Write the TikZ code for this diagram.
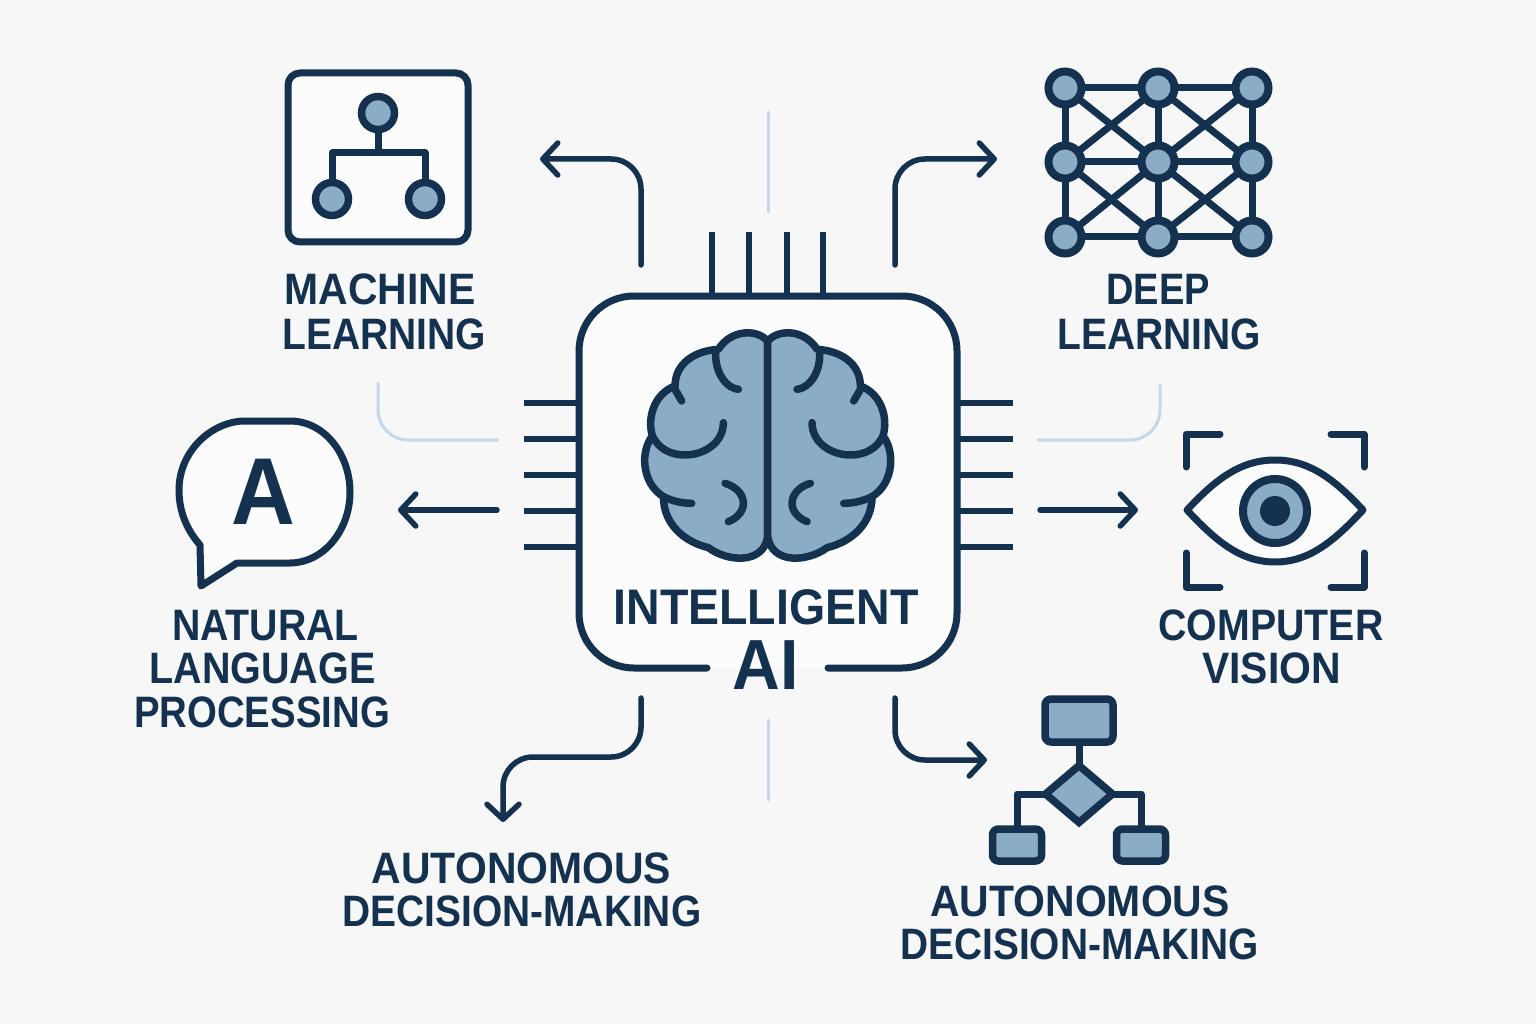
\documentclass[tikz,border=0pt]{standalone}
\usepackage{fontspec}
\usepackage{graphicx}
\setmainfont{Liberation Sans}[FakeStretch=0.93]
\usetikzlibrary{arrows.meta,shapes.geometric}
\definecolor{ink}{HTML}{14324F}
\definecolor{steel}{HTML}{8AACC7}
\definecolor{paper}{HTML}{F7F7F7}
\definecolor{card}{HTML}{FCFCFC}
\definecolor{pale}{HTML}{C3D8E8}
\newcommand{\squeezed}[2]{\scalebox{#1}[1]{#2}}
\tikzset{
  line/.style={draw=ink,line width=7pt,line cap=round,line join=round},
  pin/.style={line,line width=6pt,line cap=butt},
  flow/.style={draw=ink,line width=5.5pt,line cap=round,line join=round,rounded corners=30pt,
    -{Straight Barb[length=15pt,width=32pt,round]}},
  ghost/.style={draw=pale,line width=3pt,line cap=round,rounded corners=30pt},
  lab/.style={anchor=base,inner sep=0pt,text=ink,font=\fontsize{44}{44}\selectfont\bfseries},
  dot/.style={circle,draw=ink,fill=steel,line width=7.5pt,inner sep=0pt,minimum size=33pt},
  netdot/.style={circle,draw=ink,fill=steel,line width=8pt,inner sep=0pt,minimum size=33pt},
  fbox/.style={rectangle,draw=ink,fill=steel,line width=7.5pt,rounded corners=6pt,inner sep=0pt},
}
\begin{document}
\begin{tikzpicture}[x=1pt,y=-1pt]
\path[use as bounding box,fill=paper] (0,0) rectangle (1536,1024);

% pale guide lines
\coordinate (gt1) at (768,112); \coordinate (gt2) at (768,212);
\coordinate (gb1) at (768,720); \coordinate (gb2) at (768,800);
\coordinate (gl1) at (378,383); \coordinate (gl2) at (378,440); \coordinate (gl3) at (497,440);
\coordinate (gr1) at (1160,385); \coordinate (gr2) at (1160,440); \coordinate (gr3) at (1038,440);
\draw[ghost] (gt1) -- (gt2);
\draw[ghost] (gb1) -- (gb2);
\draw[ghost] (gl1) -- (gl2) -- (gl3);
\draw[ghost] (gr1) -- (gr2) -- (gr3);

% chip pins
\foreach \x in {712,749,787,823} \draw[pin] (\x,232) -- (\x,295);
\foreach \y in {403,439,475,511,547} {
  \draw[pin] (524,\y) -- (578,\y);
  \draw[pin] (958,\y) -- (1013,\y);
}
% chip body
\fill[card,rounded corners=55pt] (579,296) rectangle (957,668);
\coordinate (cs) at (707,668); \coordinate (ce) at (828,668);
\draw[line,rounded corners=55pt] (cs) -- (579,668) -- (579,296) -- (957,296) -- (957,668) -- (ce);

% brain
\foreach \s in {1,-1} {
\begin{scope}[shift={(767.7,320)},xscale=\s*0.3333,yscale=0.3333,shift={(-443,0)}]
  \draw[line,line width=7.5pt,fill=steel] (443,64)
    .. controls (415,28) and (335,25) .. (295,88)
    .. controls (225,92) and (165,130) .. (165,198)
    .. controls (105,220) and (80,290) .. (97,348)
    .. controls (60,395) and (65,490) .. (130,530)
    .. controls (130,610) and (190,665) .. (265,683)
    .. controls (320,725) and (430,735) .. (443,650) -- cycle;
  \draw[line,line width=7.5pt] (287,100) .. controls (285,160) and (320,205) .. (355,208);
  \draw[line,line width=7.5pt] (163,205) -- (185,243);
  \draw[line,line width=7.5pt] (310,308) .. controls (310,370) and (250,405) .. (195,405)
    .. controls (150,405) and (115,385) .. (97,348);
  \draw[line,line width=7.5pt] (130,530) .. controls (150,540) and (180,550) .. (215,550);
  \draw[line,line width=7.5pt] (315,490) .. controls (350,500) and (370,525) .. (370,550)
    .. controls (370,575) and (350,595) .. (325,605);
\end{scope}
}

% centre text
\node[lab,font=\fontsize{50}{50}\selectfont\bfseries] (t-int) at (766,624) {INTELLIGENT};
\node[lab,font=\fontsize{71}{71}\selectfont\bfseries] (t-ai) at (766,689) {AI};

% connectors
\coordinate (a1s) at (641,265); \coordinate (a1m) at (641,159); \coordinate (a1e) at (540,159);
\coordinate (a2s) at (895,265); \coordinate (a2m) at (895,159); \coordinate (a2e) at (997,159);
\coordinate (a3s) at (497,510); \coordinate (a3e) at (398,510);
\coordinate (a4s) at (1040,510); \coordinate (a4e) at (1138,510);
\coordinate (a5s) at (641,698); \coordinate (a5m) at (641,757); \coordinate (a5n) at (503,757); \coordinate (a5e) at (503,822);
\coordinate (a6s) at (895,698); \coordinate (a6m) at (895,760); \coordinate (a6e) at (987,760);
\draw[flow] (a1s) -- (a1m) -- (a1e);
\draw[flow] (a2s) -- (a2m) -- (a2e);
\draw[flow] (a3s) -- (a3e);
\draw[flow] (a4s) -- (a4e);
\draw[flow] (a5s) -- (a5m) -- (a5n) -- (a5e);
\draw[flow] (a6s) -- (a6m) -- (a6e);

% machine learning icon
\node[rectangle,draw=ink,fill=card,line width=7pt,rounded corners=12pt,minimum width=180pt,minimum height=169pt,inner sep=0pt] (mlbox) at (378,157.5) {};
\coordinate (mlj) at (378,153);
\draw[line,line cap=butt] (378,113) -- (mlj);
\draw[line,line cap=butt] (332,199) -- (332,153) -- (425,153) -- (425,199);
\node[dot] (ml1) at (378,113) {};
\node[dot] (ml2) at (332,199) {};
\node[dot] (ml3) at (425,199) {};

% deep learning icon
\foreach \xa/\ya/\xb/\yb in {1065/88/1252/88,1065/162/1252/162,1065/237/1252/237,1065/88/1065/237,1158/88/1158/237,1252/88/1252/237,1065/88/1158/162,1158/88/1065/162,1158/88/1252/162,1252/88/1158/162,1065/162/1158/237,1158/162/1065/237,1158/162/1252/237,1252/162/1158/237}
  \draw[line,line cap=butt] (\xa,\ya) -- (\xb,\yb);
\foreach \n/\x/\y in {a/1065/88,b/1158/88,c/1252/88,d/1065/162,e/1158/162,f/1252/162,g/1065/237,h/1158/237,i/1252/237}
  \node[netdot] (n\n) at (\x,\y) {};

% speech bubble
\draw[line,fill=card] (200,545) .. controls (187,530) and (179,512) .. (179,490)
  .. controls (179,450) and (213,421) .. (245,421) -- (290,421)
  .. controls (325,421) and (350,455) .. (350,492)
  .. controls (350,532) and (322,563) .. (290,563) -- (237,563) -- (201,586) -- cycle;
\node[lab,font=\fontsize{95}{95}\selectfont\bfseries] (bubA) at (263,524) {A};

% eye icon
\draw[line] (1186,467) -- (1186,434) -- (1220,434);
\draw[line] (1331,434) -- (1364,434) -- (1364,467);
\draw[line] (1186,553) -- (1186,587) -- (1220,587);
\draw[line] (1331,587) -- (1364,587) -- (1364,553);
\draw[line,fill=card] (1187,510) .. controls (1215,480) and (1240,460) .. (1275,460)
  .. controls (1310,460) and (1335,480) .. (1363,510)
  .. controls (1335,540) and (1310,562) .. (1275,562)
  .. controls (1240,562) and (1215,540) .. (1187,510) -- cycle;
\node[circle,draw=ink,fill=steel,line width=8pt,inner sep=0pt,minimum size=64pt] (iris) at (1275,511) {};
\node[circle,fill=ink,inner sep=0pt,minimum size=30pt] (pupil) at (1275,511) {};

% flowchart icon
\draw[line,line cap=butt] (1079,720) -- (1079,794);
\draw[line,line cap=butt] (1017,845) -- (1017,794) -- (1141,794) -- (1141,845);
\node[fbox,minimum width=68pt,minimum height=43pt] (f1) at (1079,720.5) {};
\node[diamond,aspect=1.16,draw=ink,fill=steel,line width=7.5pt,inner sep=0pt,minimum width=70pt,minimum height=60pt] (f2) at (1079,794) {};
\node[fbox,minimum width=49pt,minimum height=32pt] (f3) at (1017,845) {};
\node[fbox,minimum width=49pt,minimum height=32pt] (f4) at (1141,845) {};

% labels
\node[lab] (l1a) at (380,305) {MACHINE};
\node[lab] (l1b) at (384,349) {\squeezed{.953}{LEARNING}};
\node[lab] (l2a) at (1158,305) {\squeezed{.93}{DEEP}};
\node[lab] (l2b) at (1159,349) {\squeezed{.953}{LEARNING}};
\node[lab] (l3a) at (265.5,640) {\squeezed{.96}{NATURAL}};
\node[lab] (l3b) at (262.5,683) {\squeezed{.965}{LANGUAGE}};
\node[lab] (l3c) at (262,727) {\squeezed{.937}{PROCESSING}};
\node[lab] (l4a) at (1271,640) {\squeezed{.96}{COMPUTER}};
\node[lab] (l4b) at (1271.5,683) {VISION};
\node[lab] (l5a) at (521.5,883) {AUTONOMOUS};
\node[lab] (l5b) at (522,926) {\squeezed{.95}{DECISION-MAKING}};
\node[lab] (l6a) at (1080,916) {AUTONOMOUS};
\node[lab] (l6b) at (1079.5,959) {\squeezed{.95}{DECISION-MAKING}};
\end{tikzpicture}
\end{document}
